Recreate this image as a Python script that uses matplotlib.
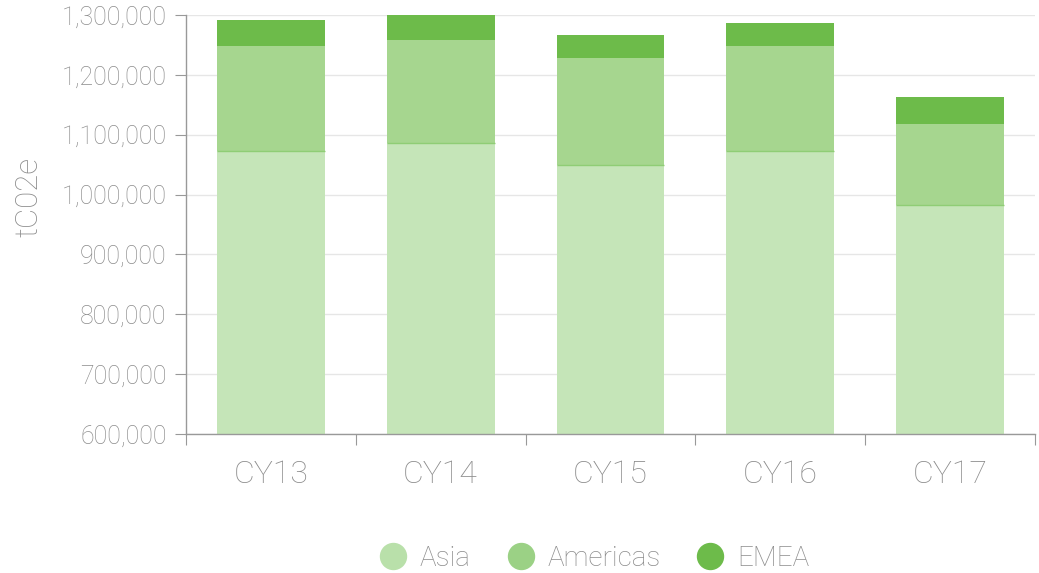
import matplotlib.pyplot as plt
import numpy as np
from matplotlib.ticker import FuncFormatter
from matplotlib.lines import Line2D

# ------------------------- data ---------------------------
years = ["CY13", "CY14", "CY15", "CY16", "CY17"]
asia = [1072600, 1086000, 1049800, 1072300, 982100]
americas_top = [1248200, 1258200, 1228100, 1248200, 1117800]
emea_top = [1291600, 1300000, 1266600, 1286600, 1162900]
americas = [t - a for t, a in zip(americas_top, asia)]
emea = [t - m for t, m in zip(emea_top, americas_top)]

series = ["Asia", "Americas", "EMEA"]
colors = ["#c5e5b8", "#a6d68f", "#6dbb4a"]
legend_colors = ["#b9e0aa", "#9bd185", "#6dbb4a"]

plt.rcParams['font.family'] = ['Roboto', 'DejaVu Sans']
txt = "#8c8c8c"

fig = plt.figure(figsize=(10.39, 5.73), dpi=100)
ax = fig.add_axes([0.179, 0.2426, 0.817, 0.7312])

x = np.arange(len(years))
w = 0.635
ax.bar(x, asia, w, color=colors[0], zorder=2)
ax.bar(x, americas, w, bottom=asia, color=colors[1], zorder=2)
ax.bar(x, emea, w, bottom=americas_top, color=colors[2], zorder=2)

# darker seam line on top of Asia
ax.hlines(asia, x - w / 2, x + w / 2, color="#8fcd75", lw=1, zorder=3)

ax.set_ylim(600000, 1300000)
ax.set_xlim(-0.5, 4.5)
ax.set_yticks(np.arange(600000, 1300001, 100000))
ax.yaxis.set_major_formatter(FuncFormatter(lambda v, p: f"{int(v):,}"))
ax.grid(axis="y", color="#e6e6e6", lw=1, zorder=0)

ax.set_xticks(np.arange(-0.5, 4.6, 1))
ax.set_xticklabels([])
ax.set_xticks(x, minor=True)
ax.set_xticklabels(years, minor=True, fontsize=23, color=txt, fontweight="light")
ax.tick_params(axis="x", which="major", length=8, color="#999999", direction="out")
ax.tick_params(axis="x", which="minor", length=0, pad=19)
ax.tick_params(axis="y", length=8, color="#999999", pad=6, labelsize=18, labelcolor=txt)
for lab in ax.get_yticklabels():
    lab.set_fontweight("light")

for s in ["top", "right"]:
    ax.spines[s].set_visible(False)
for s in ["left", "bottom"]:
    ax.spines[s].set_color("#999999")
    ax.spines[s].set_linewidth(1)

ax.set_ylabel("tC02e", fontsize=22.5, color=txt, fontweight="light")
ax.yaxis.set_label_coords(-0.168, 0.566)

handles = [Line2D([], [], marker="o", ls="", markersize=18.7, markerfacecolor=c,
                  markeredgecolor=c) for c in legend_colors]
fig.legend(handles, series, loc="center", bbox_to_anchor=(0.572, 0.025), ncol=3,
           frameon=False, labelcolor=txt, handlelength=1.0, handletextpad=0.45,
           columnspacing=1.3, prop={"weight": "light", "size": 20})

fig.savefig("out.png", dpi=100)
